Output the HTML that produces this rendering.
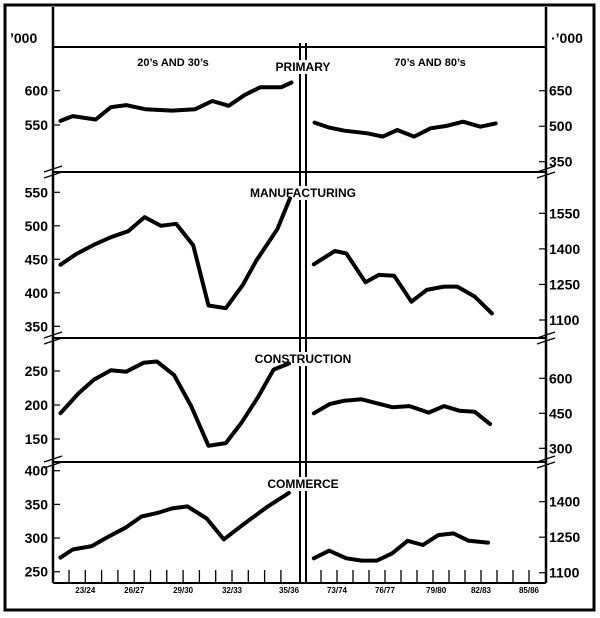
<!DOCTYPE html>
<html><head><meta charset="utf-8"><style>
html,body{margin:0;padding:0;background:#fff}
svg{display:block}
text{font-family:"Liberation Sans",sans-serif;font-weight:bold;fill:#000}
</style></head><body>
<svg id="chart" width="600" height="618" viewBox="0 0 600 618" xmlns="http://www.w3.org/2000/svg">
<rect x="5" y="5" width="589" height="605" fill="none" stroke="#000" stroke-width="3"/>
<line x1="53" y1="7" x2="53" y2="583" stroke="#000" stroke-width="2.5"/>
<line x1="546" y1="7" x2="546" y2="583" stroke="#000" stroke-width="2.5"/>
<line x1="53" y1="47" x2="546" y2="47" stroke="#000" stroke-width="2"/>
<line x1="53" y1="583" x2="546" y2="583" stroke="#000" stroke-width="2"/>
<line x1="300" y1="43" x2="300" y2="583" stroke="#000" stroke-width="2"/>
<line x1="306" y1="43" x2="306" y2="583" stroke="#000" stroke-width="2"/>
<text x="10" y="43" font-size="14">’000</text>
<text x="551" y="43" font-size="14">·’000</text>
<text x="173" y="66" font-size="11" text-anchor="middle">20’s AND 30’s</text>
<text x="430" y="66" font-size="11" text-anchor="middle">70’s AND 80’s</text>
<g id="marks"></g>
</svg>
<script>
// ---------- data ----------
const primaryLeftYears = [21.48,22.23,23.64,24.57,25.51,26.68,28.33,29.74,30.79,31.80,32.79,33.73,35.02,35.65];
const primaryLeftValues = [556,563,558,576,579,573,571,573,585,578,594,605,605,612];
const primaryRightYears = [71.60,72.51,73.46,74.90,75.86,76.77,77.82,78.85,79.81,80.88,81.96,82.92];
const primaryRightValues = [515,494,481,470,456,484,456,491,501,519,498,512];

const mfgLeftYears = [21.48,22.46,23.64,24.57,25.63,26.64,27.63,28.57,29.62,30.56,31.62,32.67,33.49,34.78,35.56];
const mfgLeftValues = [442,458,473,483,492,513,500,503,471,381,377,412,448,495,541];
const mfgRightYears = [71.55,72.87,73.58,74.78,75.62,76.57,77.65,78.61,79.68,80.52,81.60,82.68];
const mfgRightValues = [1335,1391,1381,1259,1290,1287,1177,1227,1241,1241,1199,1128];

const consLeftYears = [21.48,22.58,23.52,24.57,25.51,26.57,27.39,28.45,29.50,30.56,31.62,32.55,33.61,34.55,35.49];
const consLeftValues = [188,217,237,251,249,262,264,244,198,140,144,173,212,252,261];
const consRightYears = [71.55,72.55,73.46,74.54,75.50,76.45,77.53,78.73,79.68,80.64,81.60,82.56];
const consRightValues = [450,490,504,510,493,476,481,453,481,461,457,404];

const comLeftYears = [21.48,22.23,23.40,24.34,25.51,26.45,27.39,28.33,29.27,30.45,31.50,32.79,34.20,35.49];
const comLeftValues = [271,283,288,301,316,332,337,344,347,329,298,322,347,367];
const comRightYears = [71.55,72.51,73.58,74.54,75.50,76.45,77.41,78.37,79.33,80.28,81.24,82.44];
const comRightValues = [1161,1193,1161,1151,1151,1182,1235,1217,1259,1266,1235,1227];

const leftTickYears = [22,23,24,25,26,27,28,29,30,31,32,33,34,35];
const rightTickYears = [72,73,74,75,76,77,78,79,80,81,82,83,84,85];
const leftXLabels = ["23/24","26/27","29/30","32/33","35/36"];
const leftXLabelYears = [23,26,29,32,35.5];
const rightXLabels = ["73/74","76/77","79/80","82/83","85/86"];
const rightXLabelYears = [73,76,79.2,82,85];

const panelTitles = ["PRIMARY","MANUFACTURING","CONSTRUCTION","COMMERCE"];
const leftTickVals = [[600,550],[550,500,450,400,350],[250,200,150],[400,350,300,250]];
const rightTickVals = [[650,500,350],[1550,1400,1250,1100],[600,450,300],[1400,1250,1100]];

// ---------- scales ----------
const NS = "http://www.w3.org/2000/svg";
const xL = y => 69 + (y - 22) * 16.3;
const xR = y => 337 + (y - 73) * 16;
function lin(v0, p0, v1, p1){ return v => p0 + (v - v0) * (p1 - p0) / (v1 - v0); }
const yScalesL = [lin(600,90.7,550,125), lin(550,192.3,350,326.3), lin(250,371,150,439), lin(400,470.7,250,571.7)];
const yScalesR = [lin(650,90.7,350,161.7), lin(1550,213.3,1100,320), lin(600,378.3,300,448.3), lin(1400,501.7,1100,572.7)];
const titleY = [71, 197, 363, 488];
const seps = [172, 338, 462];

const g = document.getElementById('marks');
function el(tag, attrs){ const e = document.createElementNS(NS, tag); for (const k in attrs) e.setAttribute(k, attrs[k]); g.appendChild(e); return e; }

// separators with break marks
seps.forEach((sy, i) => {
  const s = el('line', {x1:53, y1:sy, x2:546, y2:sy, stroke:'#000', 'stroke-width':2});
  
  
  [53, 546].forEach(bx => {
    [-3, 3].forEach(d => {
      const b = el('line', {x1:bx-9, y1:sy+d+3, x2:bx+9, y2:sy+d-3, stroke:'#000', 'stroke-width':1.3});
      
      
    });
  });
});

// y ticks
leftTickVals.forEach((arr, p) => arr.forEach(v => {
  const y = yScalesL[p](v);
  const t = el('line', {x1:53, y1:y, x2:60, y2:y, stroke:'#000', 'stroke-width':1.2});
  
  
  const tx = el('text', {x:48, y:y+5, 'font-size':14, 'text-anchor':'end'});
  tx.textContent = v;
  
  
}));
rightTickVals.forEach((arr, p) => arr.forEach(v => {
  const y = yScalesR[p](v);
  const t = el('line', {x1:539, y1:y, x2:546, y2:y, stroke:'#000', 'stroke-width':1.2});
  
  
  const tx = el('text', {x:549, y:y+5, 'font-size':14});
  tx.textContent = v;
  
  
}));

// x ticks
leftTickYears.forEach(yr => {
  const t = el('line', {x1:xL(yr), y1:570, x2:xL(yr), y2:583, stroke:'#000', 'stroke-width':1.3});
  
  
});
rightTickYears.forEach(yr => {
  const t = el('line', {x1:xR(yr), y1:570, x2:xR(yr), y2:583, stroke:'#000', 'stroke-width':1.3});
  
  
});
leftXLabels.forEach((lb, i) => {
  const t = el('text', {x:xL(leftXLabelYears[i]), y:593, 'font-size':8, 'text-anchor':'middle'});
  t.textContent = lb;
  
  
});
rightXLabels.forEach((lb, i) => {
  const t = el('text', {x:xR(rightXLabelYears[i]), y:593, 'font-size':8, 'text-anchor':'middle'});
  t.textContent = lb;
  
  
});

// panel titles (white background over divider)
panelTitles.forEach((tt, i) => {
  const t = el('text', {x:303, y:titleY[i], 'font-size':12, 'text-anchor':'middle'});
  t.textContent = tt;
  
  
  const bb = t.getBBox();
  const r = document.createElementNS(NS, 'rect');
  r.setAttribute('x', bb.x - 2); r.setAttribute('y', bb.y);
  r.setAttribute('width', bb.width + 4); r.setAttribute('height', bb.height);
  r.setAttribute('fill', '#fff');
  
  
  g.insertBefore(r, t);
});

// lines (drawn last, on top of titles)
function series(years, vals, xs, ys, name){
  const d = years.map((yr, i) => (i ? 'L' : 'M') + xs(yr).toFixed(1) + ',' + ys(vals[i]).toFixed(1)).join(' ');
  const p = el('path', {d:d, fill:'none', stroke:'#000', 'stroke-width':4, 'stroke-linejoin':'round', 'stroke-linecap':'round'});
  
  
}
series(primaryLeftYears, primaryLeftValues, xL, yScalesL[0], 'primary-20s-30s-line');
series(primaryRightYears, primaryRightValues, xR, yScalesR[0], 'primary-70s-80s-line');
series(mfgLeftYears, mfgLeftValues, xL, yScalesL[1], 'manufacturing-20s-30s-line');
series(mfgRightYears, mfgRightValues, xR, yScalesR[1], 'manufacturing-70s-80s-line');
series(consLeftYears, consLeftValues, xL, yScalesL[2], 'construction-20s-30s-line');
series(consRightYears, consRightValues, xR, yScalesR[2], 'construction-70s-80s-line');
series(comLeftYears, comLeftValues, xL, yScalesL[3], 'commerce-20s-30s-line');
series(comRightYears, comRightValues, xR, yScalesR[3], 'commerce-70s-80s-line');
</script>
</body></html>
